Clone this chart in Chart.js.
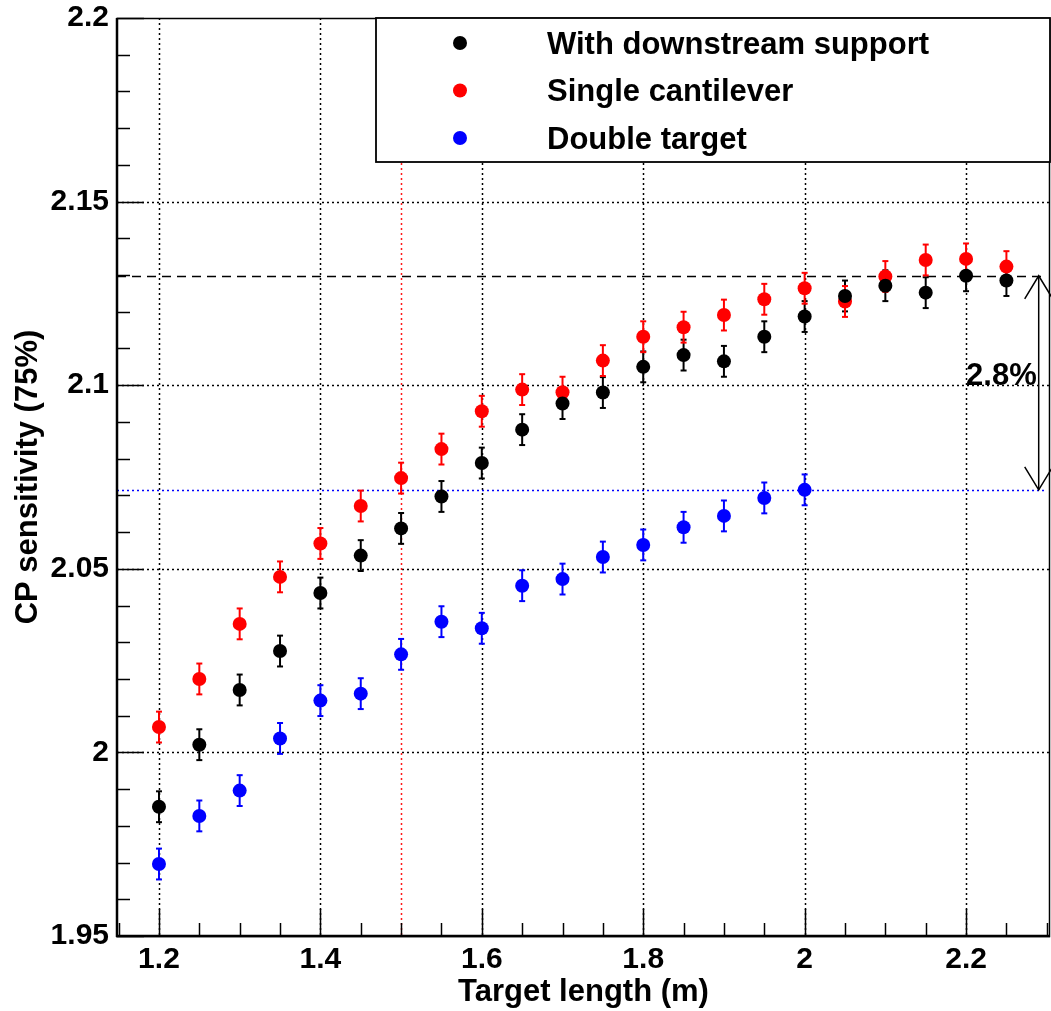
<!DOCTYPE html>
<html>
<head>
<meta charset="utf-8">
<script src="https://cdn.jsdelivr.net/npm/chart.js@4.4.0/dist/chart.umd.min.js"></script>
<style>
    html, body { margin: 0; padding: 0; background: #fff; }
    canvas { display: block; }
</style>
</head>
<body>
<canvas id="cpChart" width="1051" height="1011"></canvas>
<script>
// target lengths (m)
const lengths = [1.2, 1.25, 1.3, 1.35, 1.4, 1.45, 1.5, 1.55, 1.6, 1.65, 1.7,
                 1.75, 1.8, 1.85, 1.9, 1.95, 2.0, 2.05, 2.1, 2.15, 2.2, 2.25];

// CP sensitivity (75%) for each configuration, with its uncertainty
const withSupport = [1.9852, 2.0021, 2.0170, 2.0276, 2.0434, 2.0536, 2.0610, 2.0697, 2.0788, 2.0879, 2.0950,
                     2.0980, 2.1050, 2.1082, 2.1065, 2.1132, 2.1187, 2.1243, 2.1271, 2.1252, 2.1298, 2.1285];
const withSupportErr = [0.0042, 0.0042, 0.0042, 0.0042, 0.0042, 0.0042, 0.0042, 0.0042, 0.0042, 0.0042, 0.0042,
                        0.0042, 0.0042, 0.0042, 0.0042, 0.0042, 0.0042, 0.0042, 0.0042, 0.0042, 0.0042, 0.0042];

const cantilever = [2.0069, 2.0200, 2.0350, 2.0478, 2.0569, 2.0671, 2.0747, 2.0826, 2.0929, 2.0988, 2.0981,
                    2.1067, 2.1132, 2.1158, 2.1191, 2.1234, 2.1264, 2.1228, 2.1296, 2.1341, 2.1344, 2.1323];
const cantileverErr = [0.0042, 0.0042, 0.0042, 0.0042, 0.0042, 0.0042, 0.0042, 0.0042, 0.0042, 0.0042, 0.0042,
                       0.0042, 0.0042, 0.0042, 0.0042, 0.0042, 0.0042, 0.0042, 0.0042, 0.0042, 0.0042, 0.0042];

// double target only runs up to 2 m
const doubleTarget = [1.9696, 1.9827, 1.9896, 2.0038, 2.0141, 2.0160, 2.0267, 2.0356, 2.0338, 2.0454, 2.0472,
                      2.0532, 2.0565, 2.0613, 2.0644, 2.0693, 2.0715];
const doubleTargetErr = [0.0042, 0.0042, 0.0042, 0.0042, 0.0042, 0.0042, 0.0042, 0.0042, 0.0042, 0.0042, 0.0042,
                         0.0042, 0.0042, 0.0042, 0.0042, 0.0042, 0.0042];

const xTicks = [1.2, 1.4, 1.6, 1.8, 2.0, 2.2];
const xTickLabels = ['1.2', '1.4', '1.6', '1.8', '2', '2.2'];
const yTicks = [1.95, 2.0, 2.05, 2.1, 2.15, 2.2];
const yTickLabels = ['1.95', '2', '2.05', '2.1', '2.15', '2.2'];

// chosen baseline length and end of the reference lines
const chosenLength = 1.5;
const refLineEnd = 2.3;
const arrowAt = 2.29;
const percentLabelAt = [2.2, 2.1];

const FONT = "'Liberation Sans', Arial, Helvetica, sans-serif";

function toPoints(xs, ys) {
    return ys.map((v, i) => ({ x: xs[i], y: v }));
}

function seg(ctx, x1, y1, x2, y2) {
    ctx.beginPath();
    ctx.moveTo(x1, y1);
    ctx.lineTo(x2, y2);
    ctx.stroke();
}

const refHigh = Math.max(...withSupport);
const refLow = doubleTarget[doubleTarget.length - 1];

const rootFrame = {
    id: 'rootFrame',
    beforeDatasetsDraw(chart) {
        const { ctx, chartArea: a, scales: { x, y } } = chart;
        ctx.save();

        // dotted grid at the major ticks
        ctx.strokeStyle = '#000';
        ctx.lineWidth = 1.5;
        ctx.setLineDash([2, 3]);
        xTicks.forEach(v => {
            const px = Math.round(x.getPixelForValue(v)) + 0.5;
            seg(ctx, px, a.top, px, a.bottom);
        });
        yTicks.forEach(v => {
            if (v <= y.min || v >= y.max) return;
            const py = Math.round(y.getPixelForValue(v)) + 0.5;
            seg(ctx, a.left, py, a.right, py);
        });

        // chosen length
        ctx.strokeStyle = '#ff1a1a';
        const rx = Math.round(x.getPixelForValue(chosenLength)) + 0.5;
        seg(ctx, rx, a.top, rx, a.bottom);

        // double target at 2 m
        ctx.strokeStyle = '#0000ff';
        const by = Math.round(y.getPixelForValue(refLow)) + 0.5;
        seg(ctx, a.left, by, x.getPixelForValue(refLineEnd), by);

        // best downstream-support value
        ctx.strokeStyle = '#000';
        ctx.setLineDash([9, 6]);
        const ky = Math.round(y.getPixelForValue(refHigh)) + 0.5;
        seg(ctx, a.left, ky, x.getPixelForValue(refLineEnd), ky);

        // error bars
        ctx.setLineDash([]);
        ctx.lineWidth = 2;
        chart.data.datasets.forEach(ds => {
            ctx.strokeStyle = ds.backgroundColor;
            ds.data.forEach((p, i) => {
                const e = ds.errors[i];
                const px = x.getPixelForValue(p.x);
                const top = y.getPixelForValue(p.y + e);
                const bot = y.getPixelForValue(p.y - e);
                seg(ctx, px, top, px, bot);
                seg(ctx, px - 3, top, px + 3, top);
                seg(ctx, px - 3, bot, px + 3, bot);
            });
        });
        ctx.restore();
    },
    afterDatasetsDraw(chart) {
        const { ctx, chartArea: a, scales: { x, y } } = chart;
        ctx.save();

        // major and minor ticks on the left and bottom axes
        ctx.strokeStyle = '#000';
        ctx.lineWidth = 1.5;
        for (let k = 0; k <= 25; k++) {
            const v = 1.95 + k * 0.01;
            const py = Math.round(y.getPixelForValue(v)) + 0.5;
            const len = (k % 5 === 0) ? 27 : 13;
            seg(ctx, a.left, py, a.left + len, py);
        }
        for (let k = 0; k <= 23; k++) {
            const v = 1.15 + k * 0.05;
            if (v > x.max) break;
            const px = Math.round(x.getPixelForValue(v)) + 0.5;
            const len = (k % 4 === 1) ? 27 : 13;
            seg(ctx, px, a.bottom, px, a.bottom - len);
        }

        // frame
        ctx.lineWidth = 1.5;
        ctx.strokeRect(a.left, a.top + 0.5, a.right - a.left - 0.5, a.bottom - a.top);
        ctx.lineWidth = 2.5;
        seg(ctx, a.left, a.top, a.left, a.bottom + 1);
        seg(ctx, a.left - 1, a.bottom, a.right, a.bottom);

        // legend box
        const lx = 376, ly = a.top, lw = a.right - lx, lh = 144;
        ctx.fillStyle = '#fff';
        ctx.fillRect(lx, ly, lw, lh);
        ctx.lineWidth = 1.8;
        ctx.strokeRect(lx, ly, lw, lh);
        ctx.font = 'bold 31px ' + FONT;
        ctx.textBaseline = 'alphabetic';
        ctx.textAlign = 'left';
        chart.data.datasets.forEach((ds, i) => {
            const cy = ly + 25 + i * 47.5;
            ctx.fillStyle = ds.backgroundColor;
            ctx.beginPath();
            ctx.arc(460, cy, 7, 0, Math.PI * 2);
            ctx.fill();
            ctx.fillStyle = '#000';
            ctx.fillText(ds.label, 547, cy + 10.5);
        });

        // double-headed arrow between the two reference values
        const ax = x.getPixelForValue(arrowAt);
        const y1 = y.getPixelForValue(refHigh);
        const y2 = y.getPixelForValue(refLow);
        ctx.lineWidth = 1.5;
        seg(ctx, ax, y1, ax, y2);
        ctx.beginPath();
        ctx.moveTo(ax - 14, y1 + 23); ctx.lineTo(ax, y1); ctx.lineTo(ax + 14, y1 + 23);
        ctx.moveTo(ax - 14, y2 - 23); ctx.lineTo(ax, y2); ctx.lineTo(ax + 14, y2 - 23);
        ctx.stroke();

        const pct = ((refHigh / refLow - 1) * 100).toFixed(1) + '%';
        ctx.fillStyle = '#000';
        ctx.font = 'bold 31px ' + FONT;
        ctx.fillText(pct, x.getPixelForValue(percentLabelAt[0]), y.getPixelForValue(percentLabelAt[1]));
        ctx.restore();
    }
};

const tickFont = { family: FONT, size: 30, weight: 'bold' };
const titleFont = { family: FONT, size: 31, weight: 'bold' };

new Chart(document.getElementById('cpChart').getContext('2d'), {
    type: 'scatter',
    data: {
        datasets: [
            { label: 'With downstream support', data: toPoints(lengths, withSupport), errors: withSupportErr,
              backgroundColor: '#000000', borderColor: '#000000' },
            { label: 'Single cantilever', data: toPoints(lengths, cantilever), errors: cantileverErr,
              backgroundColor: '#ff0000', borderColor: '#ff0000' },
            { label: 'Double target', data: toPoints(lengths, doubleTarget), errors: doubleTargetErr,
              backgroundColor: '#0000ff', borderColor: '#0000ff' }
        ]
    },
    options: {
        responsive: false,
        animation: false,
        devicePixelRatio: 1,
        elements: { point: { radius: 7, hoverRadius: 7, borderWidth: 0 } },
        layout: { autoPadding: false, padding: { top: 18, right: 1, left: 0, bottom: 0 } },
        plugins: {
            legend: { display: false },
            tooltip: { enabled: false }
        },
        scales: {
            x: {
                type: 'linear',
                min: 1.148,
                max: 2.304,
                afterBuildTicks: scale => { scale.ticks = xTicks.map(v => ({ value: v })); },
                afterFit: scale => {
                    scale.height = 75;
                    scale.paddingLeft = 0;
                    scale.paddingRight = 0;
                },
                grid: { display: false, drawTicks: false },
                border: { display: false },
                ticks: { font: tickFont, color: '#000', padding: 6, maxRotation: 0,
                         callback: (v, i) => xTickLabels[i] },
                title: { display: true, text: 'Target length (m)', font: titleFont, color: '#000',
                         padding: { top: 0, bottom: 0 } }
            },
            y: {
                min: 1.95,
                max: 2.2,
                afterBuildTicks: scale => { scale.ticks = yTicks.map(v => ({ value: v })); },
                afterFit: scale => {
                    scale.width = 117;
                    scale.paddingTop = 0;
                    scale.paddingBottom = 0;
                },
                grid: { display: false, drawTicks: false },
                border: { display: false },
                ticks: { font: tickFont, color: '#000', padding: 8,
                         callback: (v, i) => yTickLabels[i] },
                title: { display: true, text: 'CP sensitivity (75%)', font: titleFont, color: '#000',
                         padding: { top: 10, bottom: 0 } }
            }
        }
    },
    plugins: [rootFrame]
});
</script>
</body>
</html>
